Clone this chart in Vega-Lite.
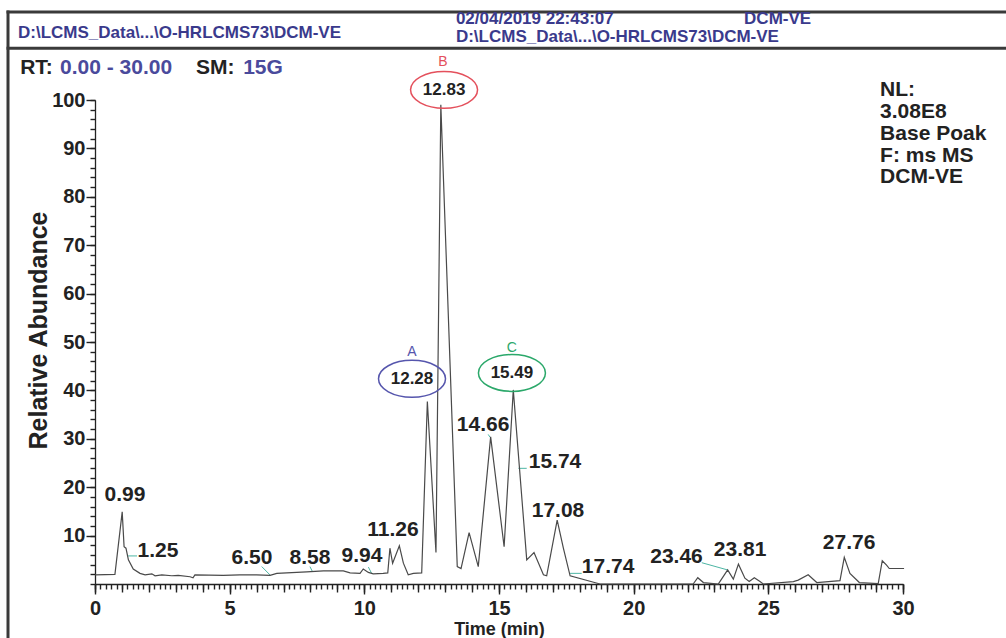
{
  "$schema": "https://vega.github.io/schema/vega-lite/v6.json",
  "width": 808,
  "height": 484,
  "autosize": {"type": "none"},
  "padding": {"left": 95, "top": 100, "right": 103, "bottom": 54},
  "background": "white",
  "config": {"view": {"stroke": null}, "font": "Liberation Sans"},
  "datasets": {
    "trace": [
      {"t": 0, "v": 1.9}, {"t": 0.74, "v": 2.0}, {"t": 1.01, "v": 14.9}, {"t": 1.08, "v": 7.7},
      {"t": 1.15, "v": 7.4}, {"t": 1.24, "v": 5.0}, {"t": 1.42, "v": 3.1}, {"t": 1.67, "v": 2.2},
      {"t": 1.86, "v": 1.9}, {"t": 2.11, "v": 2.1}, {"t": 2.23, "v": 1.7}, {"t": 2.48, "v": 1.9},
      {"t": 2.85, "v": 1.7}, {"t": 3.09, "v": 1.8}, {"t": 3.53, "v": 1.5}, {"t": 3.64, "v": 1.3},
      {"t": 3.71, "v": 1.9}, {"t": 4.76, "v": 1.8}, {"t": 5.38, "v": 1.9}, {"t": 6.0, "v": 1.9},
      {"t": 6.5, "v": 1.8}, {"t": 6.75, "v": 2.2}, {"t": 7.49, "v": 2.4}, {"t": 7.86, "v": 2.5},
      {"t": 8.48, "v": 2.7}, {"t": 9.22, "v": 2.7}, {"t": 9.47, "v": 2.3}, {"t": 9.84, "v": 2.2},
      {"t": 9.96, "v": 3.1}, {"t": 10.15, "v": 2.4}, {"t": 10.33, "v": 2.1}, {"t": 10.7, "v": 2.2},
      {"t": 10.87, "v": 2.3}, {"t": 10.95, "v": 7.4}, {"t": 11.05, "v": 4.3}, {"t": 11.3, "v": 7.9},
      {"t": 11.45, "v": 4.3}, {"t": 11.63, "v": 1.9}, {"t": 11.82, "v": 2.2}, {"t": 12.13, "v": 2.3},
      {"t": 12.34, "v": 37.7}, {"t": 12.66, "v": 6.5}, {"t": 12.84, "v": 99.0}, {"t": 13.45, "v": 3.6},
      {"t": 13.59, "v": 3.2}, {"t": 13.89, "v": 10.6}, {"t": 14.23, "v": 3.6}, {"t": 14.69, "v": 30.4},
      {"t": 15.19, "v": 7.7}, {"t": 15.53, "v": 40.1}, {"t": 16.03, "v": 5.0}, {"t": 16.3, "v": 6.5},
      {"t": 16.65, "v": 1.9}, {"t": 16.77, "v": 1.7}, {"t": 17.16, "v": 13.2}, {"t": 17.39, "v": 7.4},
      {"t": 17.64, "v": 1.7}, {"t": 18.75, "v": 0.0}, {"t": 22.21, "v": 0.0}, {"t": 22.38, "v": 1.3},
      {"t": 22.59, "v": 0.3}, {"t": 23.14, "v": 0.0}, {"t": 23.49, "v": 2.9}, {"t": 23.7, "v": 1.0},
      {"t": 23.89, "v": 4.1}, {"t": 24.13, "v": 1.2}, {"t": 24.29, "v": 0.5}, {"t": 24.48, "v": 1.3},
      {"t": 24.69, "v": 0.5}, {"t": 24.81, "v": 0.0}, {"t": 25.93, "v": 0.5}, {"t": 26.11, "v": 0.8},
      {"t": 26.48, "v": 1.9}, {"t": 26.8, "v": 0.3}, {"t": 27.66, "v": 0.7}, {"t": 27.82, "v": 5.5},
      {"t": 28.03, "v": 2.2}, {"t": 28.38, "v": 0.3}, {"t": 29.08, "v": 0.1}, {"t": 29.23, "v": 4.8},
      {"t": 29.39, "v": 3.9}, {"t": 29.49, "v": 3.2}, {"t": 30.04, "v": 3.2}
    ],
    "frame": [
      {"t": -3.23, "v": 118.2, "t2": 33.9, "v2": 118.2},
      {"t": -3.23, "v": 110.7, "t2": 33.9, "v2": 110.7},
      {"t": -3.23, "v": 118.2, "t2": -3.23, "v2": -12}
    ],
    "leaders": [
      {"t": 1.23, "v": 5.8, "t2": 1.56, "v2": 5.8},
      {"t": 6.19, "v": 3.6, "t2": 6.5, "v2": 1.86},
      {"t": 7.98, "v": 3.6, "t2": 8.08, "v2": 2.5},
      {"t": 10.15, "v": 3.5, "t2": 10.27, "v2": 2.2},
      {"t": 14.6, "v": 30.9, "t2": 14.67, "v2": 30.3},
      {"t": 15.72, "v": 23.9, "t2": 16.03, "v2": 23.9},
      {"t": 17.64, "v": 2.2, "t2": 18.07, "v2": 2.2},
      {"t": 22.53, "v": 4.4, "t2": 23.49, "v2": 2.9}
    ],
    "peaks": [
      {"t": 1.11, "v": 18.4, "label": "0.99"},
      {"t": 2.34, "v": 6.8, "label": "1.25"},
      {"t": 5.83, "v": 5.4, "label": "6.50"},
      {"t": 7.98, "v": 5.4, "label": "8.58"},
      {"t": 9.91, "v": 5.8, "label": "9.94"},
      {"t": 11.06, "v": 11.2, "label": "11.26"},
      {"t": 14.41, "v": 32.9, "label": "14.66"},
      {"t": 17.08, "v": 25.2, "label": "15.74"},
      {"t": 17.19, "v": 15.1, "label": "17.08"},
      {"t": 19.05, "v": 3.5, "label": "17.74"},
      {"t": 21.59, "v": 5.6, "label": "23.46"},
      {"t": 23.95, "v": 7.0, "label": "23.81"},
      {"t": 28.0, "v": 8.5, "label": "27.76"}
    ],
    "circled": [
      {"t": 11.77, "v": 42.4, "peak": "A", "label": "12.28"},
      {"t": 12.96, "v": 102.1, "peak": "B", "label": "12.83"},
      {"t": 15.48, "v": 43.6, "peak": "C", "label": "15.49"}
    ],
    "letters": [
      {"t": 11.77, "v": 47.9, "peak": "A"},
      {"t": 12.92, "v": 107.9, "peak": "B"},
      {"t": 15.48, "v": 48.8, "peak": "C"}
    ],
    "info": [
      {"t": 29.15, "v": 102.1, "label": "NL:"},
      {"t": 29.15, "v": 97.5, "label": "3.08E8"},
      {"t": 29.15, "v": 93.0, "label": "Base Poak"},
      {"t": 29.15, "v": 88.5, "label": "F: ms MS"},
      {"t": 29.15, "v": 84.1, "label": "DCM-VE"}
    ],
    "rtBlack": [
      {"t": -2.78, "v": 106.6, "label": "RT:"},
      {"t": 3.75, "v": 106.6, "label": "SM:"}
    ],
    "rtBlue": [
      {"t": -1.3, "v": 106.6, "label": "0.00 - 30.00"},
      {"t": 5.5, "v": 106.6, "label": "15G"}
    ],
    "header": [
      {"t": -2.86, "v": 113.8, "label": "D:\\LCMS_Data\\...\\O-HRLCMS73\\DCM-VE"},
      {"t": 13.4, "v": 116.7, "label": "02/04/2019 22:43:07"},
      {"t": 24.1, "v": 116.7, "label": "DCM-VE"},
      {"t": 13.4, "v": 113.0, "label": "D:\\LCMS_Data\\...\\O-HRLCMS73\\DCM-VE"}
    ]
  },
  "encoding": {
    "x": {"field": "t", "type": "quantitative", "scale": {"domain": [0, 30], "nice": false, "zero": false}, "axis": null},
    "y": {"field": "v", "type": "quantitative", "scale": {"domain": [0, 100], "nice": false, "zero": false}, "axis": null}
  },
  "layer": [
    {
      "data": {"name": "frame"},
      "mark": {"type": "rule", "stroke": "#3a3a3a", "strokeWidth": 3, "strokeCap": "square"},
      "encoding": {
        "x2": {"field": "t2"},
        "y2": {"field": "v2"}
      }
    },
    {
      "data": {"name": "leaders"},
      "mark": {"type": "rule", "stroke": "#4db6a4", "strokeWidth": 1},
      "encoding": {
        "x2": {"field": "t2"},
        "y2": {"field": "v2"}
      }
    },
    {
      "data": {"name": "trace"},
      "mark": {"type": "line", "stroke": "#4a4a4a", "strokeWidth": 1.2},
      "encoding": {
        "x": {"field": "t", "type": "quantitative", "scale": {"domain": [0, 30], "nice": false, "zero": false},
              "axis": {"orient": "bottom", "tickCount": 150, "grid": false, "tickSize": 5, "tickWidth": 1.4,
                       "tickColor": "#222", "domainColor": "#222", "domainWidth": 1.3, "format": ".0f",
                       "labelExpr": "datum.value % 5 === 0 ? datum.label : ''",
                       "labelFont": "Liberation Sans", "labelFontWeight": "bold", "labelFontSize": 20, "labelColor": "#222", "labelPadding": 9, "labelFlush": false, "labelOverlap": false,
                       "title": "Time (min)", "titleFont": "Liberation Sans", "titleFontWeight": "bold", "titleFontSize": 18, "titleColor": "#222", "titlePadding": 2}},
        "y": {"field": "v", "type": "quantitative", "scale": {"domain": [0, 100], "nice": false, "zero": false},
              "axis": {"orient": "left", "tickCount": 50, "grid": false, "tickSize": 5, "tickWidth": 1.4,
                       "tickColor": "#222", "domainColor": "#222", "domainWidth": 1.3, "format": ".0f",
                       "labelExpr": "datum.value % 10 === 0 && datum.value > 0 ? datum.label : ''",
                       "labelFont": "Liberation Sans", "labelFontWeight": "bold", "labelFontSize": 20, "labelColor": "#222", "labelPadding": 5, "labelOverlap": false,
                       "title": "Relative Abundance", "titleFont": "Liberation Sans", "titleFontWeight": "bold", "titleFontSize": 25, "titleColor": "#222",
                       "titleAngle": -90, "titleX": -57, "titleY": 230, "titleAlign": "center", "titleBaseline": "middle"}}
      }
    },
    {
      "data": {"name": "circled"},
      "mark": {"type": "point", "shape": "M-1,0A1,0.55,0,1,1,1,0A1,0.55,0,1,1,-1,0Z", "size": 4489, "filled": false, "strokeWidth": 1.5, "opacity": 1},
      "encoding": {
        "color": {"field": "peak", "type": "nominal", "scale": {"domain": ["A", "B", "C"], "range": ["#5656ad", "#e4505c", "#2ba86a"]}, "legend": null}
      }
    },
    {
      "data": {"name": "circled"},
      "mark": {"type": "text", "font": "Liberation Sans", "fontWeight": "bold", "fontSize": 17, "color": "#222", "align": "center", "baseline": "middle"},
      "encoding": {"text": {"field": "label", "type": "nominal"}}
    },
    {
      "data": {"name": "letters"},
      "mark": {"type": "text", "font": "Liberation Sans", "fontSize": 14, "align": "center", "baseline": "middle"},
      "encoding": {
        "text": {"field": "peak", "type": "nominal"},
        "color": {"field": "peak", "type": "nominal", "scale": {"domain": ["A", "B", "C"], "range": ["#5656ad", "#e4505c", "#2ba86a"]}, "legend": null}
      }
    },
    {
      "data": {"name": "peaks"},
      "mark": {"type": "text", "font": "Liberation Sans", "fontWeight": "bold", "fontSize": 21, "color": "#222", "align": "center", "baseline": "middle"},
      "encoding": {
        "x": {"field": "t", "type": "quantitative", "scale": {"domain": [0, 30], "nice": false, "zero": false},
              "axis": {"orient": "bottom", "values": [0,1,2,3,4,5,6,7,8,9,10,11,12,13,14,15,16,17,18,19,20,21,22,23,24,25,26,27,28,29,30], "tickSize": 8, "tickWidth": 1.4, "tickColor": "#222", "labels": false, "domain": false, "grid": false, "title": null}},
        "y": {"field": "v", "type": "quantitative", "scale": {"domain": [0, 100], "nice": false, "zero": false},
              "axis": {"orient": "left", "values": [10, 20, 30, 40, 50, 60, 70, 80, 90, 100], "tickSize": 9, "tickWidth": 1.4, "tickColor": "#222", "labels": false, "domain": false, "grid": false, "title": null}},
        "text": {"field": "label", "type": "nominal"}
      }
    },
    {
      "data": {"name": "info"},
      "mark": {"type": "text", "font": "Liberation Sans", "fontWeight": "bold", "fontSize": 21, "color": "#222", "align": "left", "baseline": "middle"},
      "encoding": {
        "x": {"field": "t", "type": "quantitative", "scale": {"domain": [0, 30], "nice": false, "zero": false},
              "axis": {"orient": "bottom", "values": [0, 5, 10, 15, 20, 25, 30], "tickSize": 10, "tickWidth": 1.4, "tickColor": "#222", "labels": false, "domain": false, "grid": false, "title": null}},
        "text": {"field": "label", "type": "nominal"}
      }
    },
    {
      "data": {"name": "rtBlack"},
      "mark": {"type": "text", "font": "Liberation Sans", "fontWeight": "bold", "fontSize": 21, "color": "#222", "align": "left", "baseline": "middle"},
      "encoding": {"text": {"field": "label", "type": "nominal"}}
    },
    {
      "data": {"name": "rtBlue"},
      "mark": {"type": "text", "font": "Liberation Sans", "fontWeight": "bold", "fontSize": 21, "color": "#4a4a9c", "align": "left", "baseline": "middle"},
      "encoding": {"text": {"field": "label", "type": "nominal"}}
    },
    {
      "data": {"name": "header"},
      "mark": {"type": "text", "font": "Liberation Sans", "fontWeight": "bold", "fontSize": 17, "color": "#3a3a8c", "align": "left", "baseline": "middle"},
      "encoding": {"text": {"field": "label", "type": "nominal"}}
    }
  ],
  "resolve": {"axis": {"x": "independent", "y": "independent"}}
}
